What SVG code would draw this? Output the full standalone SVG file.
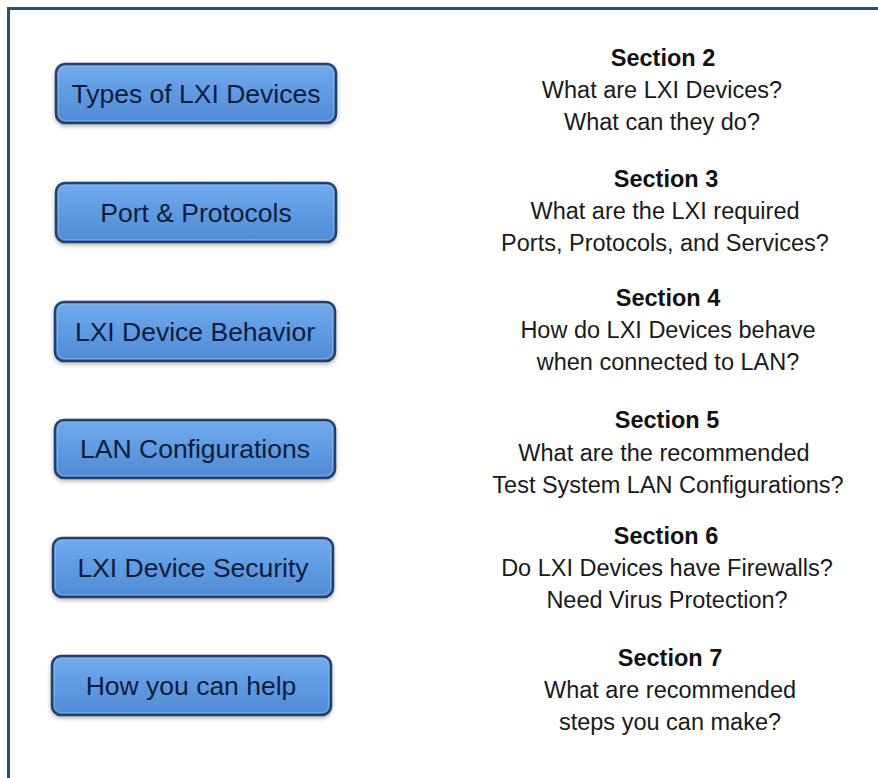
<svg xmlns="http://www.w3.org/2000/svg" width="878" height="778" viewBox="0 0 878 778">
<defs>
<linearGradient id="btnFill" x1="0" y1="0" x2="0" y2="1">
<stop offset="0" stop-color="#72aaee"/>
<stop offset="0.5" stop-color="#5f9be2"/>
<stop offset="1" stop-color="#4f8ad4"/>
</linearGradient>
<filter id="shadow" x="-10%" y="-20%" width="120%" height="150%">
<feDropShadow dx="0" dy="2" stdDeviation="2" flood-color="#000" flood-opacity="0.3"/>
</filter>
</defs>
<style>
.btn rect.b{fill:url(#btnFill);stroke:#213f68;stroke-width:2.5;filter:url(#shadow)}
.btn rect.h{fill:none;stroke:#8dbcf2;stroke-width:1;opacity:0.6}
.btn text{font-family:"Liberation Sans",Arial,sans-serif;font-size:26.5px;fill:#0e1c3a;text-anchor:middle}
.sec text{font-family:"Liberation Sans",Arial,sans-serif;font-size:23.5px;fill:#1a1a1a;text-anchor:middle}
.sec text.t{font-weight:bold;fill:#111}
</style>
<rect x="0" y="0" width="878" height="778" fill="#ffffff"/>
<path d="M8.5 790 V8.5 H890" fill="none" stroke="#24507f" stroke-width="3"/>

<g id="btn-types" class="btn">
<rect class="b" x="56" y="64" width="280" height="59" rx="9"/>
<rect class="h" x="58.5" y="66.5" width="275" height="54" rx="7"/>
<text x="196" y="103">Types of LXI Devices</text>
</g>
<g id="btn-port" class="btn">
<rect class="b" x="56" y="183" width="280" height="59" rx="9"/>
<rect class="h" x="58.5" y="185.5" width="275" height="54" rx="7"/>
<text x="196" y="222">Port &amp; Protocols</text>
</g>
<g id="btn-behavior" class="btn">
<rect class="b" x="55" y="302" width="280" height="59" rx="9"/>
<rect class="h" x="57.5" y="304.5" width="275" height="54" rx="7"/>
<text x="195" y="341">LXI Device Behavior</text>
</g>
<g id="btn-lan" class="btn">
<rect class="b" x="55" y="420" width="280" height="58" rx="9"/>
<rect class="h" x="57.5" y="422.5" width="275" height="53" rx="7"/>
<text x="195" y="458">LAN Configurations</text>
</g>
<g id="btn-security" class="btn">
<rect class="b" x="53" y="538" width="280" height="59" rx="9"/>
<rect class="h" x="55.5" y="540.5" width="275" height="54" rx="7"/>
<text x="193" y="577">LXI Device Security</text>
</g>
<g id="btn-help" class="btn">
<rect class="b" x="52" y="656" width="279" height="59" rx="9"/>
<rect class="h" x="54.5" y="658.5" width="274" height="54" rx="7"/>
<text x="191" y="695">How you can help</text>
</g>

<g id="sec2" class="sec">
<text class="t" x="663" y="66">Section 2</text>
<text x="662" y="98">What are LXI Devices?</text>
<text x="662" y="130">What can they do?</text>
</g>
<g id="sec3" class="sec">
<text class="t" x="666" y="187">Section 3</text>
<text x="665" y="219">What are the LXI required</text>
<text x="665" y="251">Ports, Protocols, and Services?</text>
</g>
<g id="sec4" class="sec">
<text class="t" x="668" y="306">Section 4</text>
<text x="668" y="338">How do LXI Devices behave</text>
<text x="668" y="370">when connected to LAN?</text>
</g>
<g id="sec5" class="sec">
<text class="t" x="667" y="428">Section 5</text>
<text x="664" y="461">What are the recommended</text>
<text x="668" y="493">Test System LAN Configurations?</text>
</g>
<g id="sec6" class="sec">
<text class="t" x="666" y="544">Section 6</text>
<text x="667" y="576">Do LXI Devices have Firewalls?</text>
<text x="667" y="608">Need Virus Protection?</text>
</g>
<g id="sec7" class="sec">
<text class="t" x="670" y="666">Section 7</text>
<text x="670" y="698">What are recommended</text>
<text x="670" y="730">steps you can make?</text>
</g>
</svg>
